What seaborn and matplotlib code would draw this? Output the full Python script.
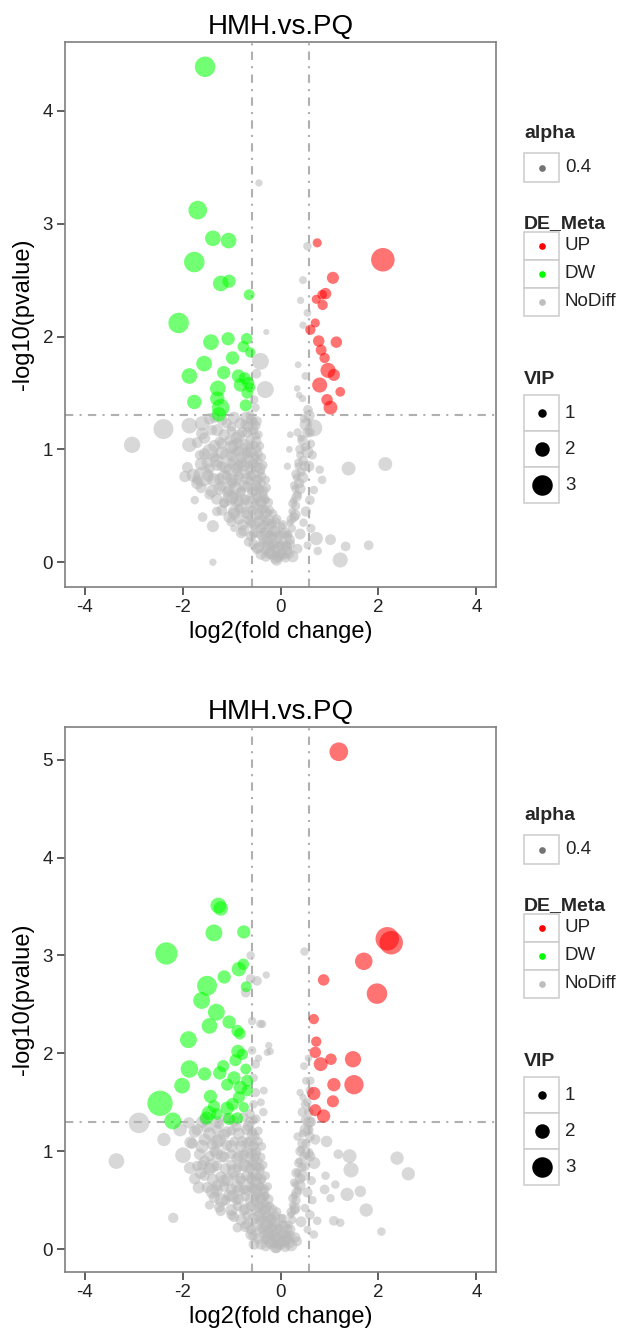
import numpy as np
import pandas as pd
import matplotlib
matplotlib.use("Agg")
import matplotlib.pyplot as plt
import seaborn as sns
from matplotlib.patches import Rectangle

# ---------------- data: (log2 fold change, -log10 pvalue, VIP) ----------------
top_up = [
    (0.75, 2.83, 1.1), (2.09, 2.68, 3.5), (1.07, 2.52, 1.6), (0.92, 2.38, 1.5),
    (0.85, 2.37, 1.2), (0.73, 2.33, 1.1), (0.86, 2.28, 1.3), (0.71, 2.12, 1.1),
    (0.61, 2.06, 1.3), (0.78, 1.96, 1.5), (1.14, 1.95, 1.5), (0.83, 1.88, 1.4),
    (0.90, 1.81, 1.3), (0.97, 1.70, 2.1), (1.09, 1.66, 1.6), (0.80, 1.57, 2.1),
    (1.22, 1.51, 1.2), (0.95, 1.44, 1.5), (1.02, 1.37, 1.9),
]
top_dw = [
    (-1.54, 4.39, 3.0), (-1.69, 3.12, 2.7), (-1.38, 2.87, 2.2), (-1.06, 2.85, 2.2),
    (-1.76, 2.66, 3.0), (-1.22, 2.47, 2.2), (-1.05, 2.49, 1.8), (-0.64, 2.37, 1.4),
    (-2.08, 2.12, 3.0), (-1.42, 1.95, 2.2), (-1.07, 1.98, 1.8), (-0.69, 1.98, 1.5),
    (-0.76, 1.91, 1.5), (-0.62, 1.86, 1.3), (-1.56, 1.76, 2.2), (-0.98, 1.81, 1.8),
    (-1.86, 1.65, 2.2), (-1.16, 1.68, 1.8), (-0.86, 1.65, 1.8), (-0.73, 1.63, 1.6),
    (-0.66, 1.59, 1.6), (-0.82, 1.57, 1.8), (-1.28, 1.54, 2.2), (-0.62, 1.55, 1.3),
    (-1.76, 1.42, 2.0), (-1.29, 1.45, 2.0), (-1.22, 1.37, 2.5), (-1.26, 1.31, 2.0),
    (-0.71, 1.39, 1.6), (-0.68, 1.50, 1.5),
]
top_nodiff = [
    (-0.44, 3.36, 0.8), (0.55, 2.80, 1.0), (0.46, 2.50, 0.9), (0.41, 2.32, 0.8),
    (0.55, 2.21, 0.9), (0.46, 2.10, 0.8), (-0.29, 2.04, 0.6), (0.36, 1.75, 0.7),
    (0.51, 1.65, 0.9), (0.34, 1.54, 0.7), (-0.31, 1.53, 2.4), (-0.41, 1.78, 2.4),
    (-0.49, 1.67, 1.2), (-0.54, 1.44, 1.0), (-0.51, 1.37, 1.0), (-0.48, 1.25, 1.2),
    (0.68, 1.19, 2.4), (1.39, 0.83, 1.9), (2.14, 0.87, 1.9), (1.33, 0.14, 1.2),
    (1.80, 0.15, 1.2), (1.22, 0.02, 2.1), (1.02, 0.20, 1.4), (0.73, 0.21, 1.8),
    (0.76, 0.10, 1.0), (-1.38, 0.00, 0.8), (-1.38, 0.32, 1.6), (-0.95, 0.30, 0.8),
    (0.80, 0.82, 1.0), (0.85, 0.73, 1.0), (0.68, 0.64, 1.0),
    (-3.03, 1.04, 2.3), (-2.39, 1.18, 2.9), (-1.86, 1.21, 2.2), (-1.86, 1.04, 2.0),
    (-1.60, 1.23, 2.0), (-1.29, 1.17, 1.6), (-1.44, 0.98, 2.2), (-1.78, 0.77, 1.8),
    (-1.58, 0.76, 2.9), (-1.36, 0.73, 1.8), (-1.59, 0.40, 1.2), (-1.02, 0.57, 2.2),
    (-0.92, 0.73, 1.6), (-0.85, 0.85, 1.5), (-0.95, 1.03, 1.6), (-0.82, 1.23, 1.5),
    (-1.19, 1.26, 1.4),
    (0.56, 1.35, 1.2), (0.48, 1.27, 1.0), (0.55, 1.15, 1.3), (0.42, 1.10, 0.8),
    (0.50, 1.02, 1.0), (0.40, 0.95, 0.9), (0.46, 0.90, 1.2), (0.36, 0.85, 0.8),
    (0.42, 0.80, 1.1), (0.33, 0.75, 0.9), (0.38, 0.70, 1.3), (0.30, 0.65, 0.9),
    (0.35, 0.60, 1.0), (0.27, 0.55, 0.8), (0.31, 0.50, 1.1), (0.24, 0.45, 0.9),
    (0.28, 0.40, 1.2), (0.20, 0.35, 0.8), (0.23, 0.30, 1.0), (0.16, 0.25, 0.9),
    (0.19, 0.20, 1.3), (0.12, 0.15, 1.0), (0.15, 0.10, 1.2), (0.08, 0.06, 1.0),
    (0.62, 1.05, 1.0), (0.65, 0.95, 1.1), (0.58, 0.85, 1.4), (0.60, 0.55, 1.2),
    (0.52, 0.45, 1.3), (0.47, 0.35, 1.0), (0.62, 0.30, 1.1), (0.40, 0.25, 1.4),
    (0.55, 0.15, 0.9), (0.35, 0.12, 1.2), (0.25, 0.05, 1.5), (0.45, 1.45, 0.8),
    (0.38, 1.48, 0.7), (0.20, 1.13, 0.7), (0.18, 1.00, 0.7), (0.14, 0.85, 0.8),
    (-0.62, 1.30, 1.1), (-0.55, 1.25, 1.0), (-0.66, 1.20, 1.4), (-0.58, 1.16, 1.2),
    (-0.50, 1.12, 0.9), (-0.62, 1.08, 1.3), (-0.53, 1.04, 1.0), (-0.47, 1.00, 0.9),
    (-0.60, 0.98, 1.5), (-0.70, 0.95, 1.2), (-0.52, 0.94, 1.1), (-0.44, 0.90, 0.8),
    (-0.57, 0.88, 1.3), (-0.65, 0.86, 1.0), (-0.48, 0.84, 1.2), (-0.40, 0.80, 0.9),
    (-0.55, 0.78, 1.4), (-0.72, 0.78, 1.3), (-0.45, 0.74, 1.0), (-0.62, 0.72, 1.2),
    (-0.38, 0.70, 0.9), (-0.50, 0.68, 1.5), (-0.42, 0.64, 1.1), (-0.58, 0.62, 1.3),
    (-0.35, 0.60, 1.0), (-0.47, 0.57, 1.2), (-0.30, 0.55, 0.9), (-0.40, 0.52, 1.4),
    (-0.52, 0.50, 1.2), (-0.33, 0.47, 1.1), (-0.25, 0.44, 0.9), (-0.44, 0.42, 1.3),
    (-0.36, 0.39, 1.0), (-0.28, 0.36, 1.2), (-0.20, 0.33, 0.9), (-0.40, 0.30, 1.4),
    (-0.31, 0.28, 1.1), (-0.22, 0.25, 1.0), (-0.15, 0.22, 1.2), (-0.35, 0.20, 1.3),
    (-0.26, 0.18, 1.5), (-0.18, 0.15, 1.0), (-0.10, 0.12, 1.3), (-0.30, 0.10, 1.2),
    (-0.21, 0.08, 1.6), (-0.12, 0.06, 1.1), (-0.04, 0.05, 1.4), (0.03, 0.08, 1.2),
    (-0.08, 0.02, 1.5), (0.00, 0.15, 1.3), (-0.05, 0.20, 1.0), (0.05, 0.25, 1.1),
    (-0.12, 0.28, 1.4), (0.02, 0.32, 0.9), (-0.08, 0.38, 1.2),
    (-0.78, 1.15, 1.3), (-0.90, 1.10, 1.6), (-1.05, 1.08, 1.2), (-0.75, 1.02, 1.1),
    (-0.85, 0.98, 1.4), (-1.10, 0.95, 1.8), (-0.95, 0.90, 1.2), (-0.80, 0.88, 1.6),
    (-1.20, 0.85, 1.3), (-1.05, 0.82, 1.5), (-0.88, 0.80, 1.1), (-0.75, 0.68, 1.4),
    (-1.15, 0.75, 2.0), (-0.98, 0.70, 1.3), (-0.82, 0.62, 1.2), (-1.25, 0.65, 1.6),
    (-1.08, 0.62, 1.4), (-0.90, 0.55, 1.8), (-0.70, 0.55, 1.3), (-0.80, 0.48, 1.5),
    (-1.15, 0.52, 1.2), (-0.95, 0.45, 1.6), (-0.68, 0.42, 1.2), (-0.85, 0.38, 1.4),
    (-0.60, 0.35, 1.3), (-0.75, 0.28, 1.5), (-0.55, 0.25, 1.1), (-0.65, 0.18, 1.2),
    (-0.48, 0.12, 1.4), (-1.50, 0.88, 1.4), (-1.65, 0.95, 1.2), (-1.70, 0.70, 1.6),
    (-1.45, 0.60, 1.3), (-1.30, 0.90, 1.8), (-1.20, 1.05, 1.4), (-1.00, 1.20, 1.2),
    (-0.70, 1.28, 1.6), (-1.55, 1.10, 1.5), (-1.35, 1.28, 1.3), (-1.05, 0.40, 1.5),
    (-1.30, 0.45, 1.2), (-1.75, 0.55, 1.0),
]
top_nodiff_core = [
    (-1.45, 1.27, 1.5), (-1.10, 1.23, 1.3), (-0.95, 1.28, 1.6), (-0.72, 1.22, 1.2),
    (-0.60, 1.26, 1.4), (-0.50, 1.21, 1.1), (-1.60, 1.14, 1.6), (-1.40, 1.17, 1.3),
    (-1.15, 1.13, 1.5), (-1.00, 1.16, 1.2), (-0.85, 1.12, 1.7), (-0.68, 1.15, 1.3),
    (-0.55, 1.18, 1.2), (-0.45, 1.13, 1.0), (-1.70, 1.06, 1.4), (-1.35, 1.03, 1.6),
    (-1.25, 1.07, 1.2), (-1.00, 1.02, 1.8), (-0.88, 1.06, 1.3), (-0.72, 1.04, 1.5),
    (-0.62, 1.01, 1.2), (-0.50, 1.07, 1.4), (-0.42, 1.03, 1.0), (-1.55, 0.96, 1.5),
    (-1.35, 0.93, 1.3), (-1.20, 0.97, 1.7), (-1.00, 0.94, 1.4), (-0.90, 0.98, 1.2),
    (-0.78, 0.93, 1.6), (-0.68, 0.97, 1.3), (-0.55, 0.92, 1.5), (-0.45, 0.96, 1.1),
    (-0.38, 0.93, 1.0), (-1.90, 0.84, 1.4), (-1.62, 0.87, 1.7), (-1.45, 0.83, 1.3),
    (-1.30, 0.86, 1.5), (-1.12, 0.84, 1.6), (-1.00, 0.87, 1.2), (-0.90, 0.83, 1.4),
    (-0.75, 0.86, 1.7), (-0.62, 0.82, 1.3), (-0.52, 0.87, 1.2), (-0.42, 0.83, 1.5),
    (-0.35, 0.86, 1.0), (-1.95, 0.76, 1.5), (-1.70, 0.73, 1.3), (-1.48, 0.77, 1.6),
    (-1.25, 0.74, 1.4), (-1.10, 0.77, 1.2), (-1.00, 0.73, 1.7), (-0.85, 0.76, 1.3),
    (-0.70, 0.74, 1.5), (-0.60, 0.77, 1.2), (-0.48, 0.73, 1.4), (-0.38, 0.76, 1.1),
    (-0.30, 0.73, 1.0), (-1.62, 0.66, 1.4), (-1.40, 0.63, 1.6), (-1.20, 0.67, 1.3),
    (-1.05, 0.64, 1.5), (-0.92, 0.66, 1.8), (-0.80, 0.63, 1.2), (-0.68, 0.67, 1.4),
    (-0.55, 0.64, 1.6), (-0.45, 0.66, 1.2), (-0.35, 0.63, 1.3), (-0.28, 0.66, 1.0),
    (-1.30, 0.56, 1.5), (-1.15, 0.53, 1.3), (-0.98, 0.57, 1.6), (-0.85, 0.54, 1.4),
    (-0.72, 0.56, 1.2), (-0.60, 0.53, 1.7), (-0.50, 0.57, 1.3), (-0.40, 0.54, 1.5),
    (-0.32, 0.56, 1.1), (-0.25, 0.53, 1.2), (-1.20, 0.46, 1.4), (-0.95, 0.43, 1.6),
    (-0.85, 0.47, 1.2), (-0.70, 0.44, 1.5), (-0.58, 0.46, 1.3), (-0.48, 0.43, 1.6),
    (-0.38, 0.47, 1.2), (-0.30, 0.44, 1.4), (-0.22, 0.46, 1.1), (-0.15, 0.43, 1.0),
    (-1.00, 0.36, 1.3), (-0.78, 0.33, 1.5), (-0.65, 0.37, 1.2), (-0.55, 0.34, 1.6),
    (-0.45, 0.36, 1.4), (-0.35, 0.33, 1.2), (-0.25, 0.37, 1.5), (-0.18, 0.34, 1.3),
    (-0.10, 0.36, 1.1), (0.05, 0.33, 1.2), (-0.80, 0.26, 1.4), (-0.60, 0.23, 1.3),
    (-0.50, 0.27, 1.6), (-0.40, 0.24, 1.2), (-0.30, 0.26, 1.5), (-0.20, 0.23, 1.3),
    (-0.12, 0.27, 1.6), (-0.02, 0.24, 1.2), (0.08, 0.26, 1.4), (0.15, 0.23, 1.1),
    (-0.55, 0.16, 1.3), (-0.45, 0.13, 1.5), (-0.35, 0.17, 1.2), (-0.25, 0.14, 1.6),
    (-0.15, 0.16, 1.4), (-0.05, 0.13, 1.7), (0.05, 0.17, 1.3), (0.12, 0.14, 1.5),
    (0.20, 0.16, 1.2), (-0.40, 0.07, 1.4), (-0.30, 0.05, 1.3), (-0.20, 0.08, 1.5),
    (-0.10, 0.04, 1.6), (0.00, 0.07, 1.4), (0.10, 0.04, 1.2), (0.18, 0.08, 1.3),
    (0.22, 0.38, 1.2), (0.30, 0.42, 1.4), (0.25, 0.52, 1.1), (0.33, 0.58, 1.3),
    (0.28, 0.68, 1.0), (0.40, 0.65, 1.4), (0.32, 0.78, 1.2), (0.45, 0.75, 1.5),
    (0.37, 0.88, 1.1), (0.50, 0.85, 1.3), (0.40, 1.00, 1.2), (0.55, 0.98, 1.6),
    (0.45, 1.08, 1.3), (0.52, 1.22, 1.7), (0.60, 1.15, 1.2), (0.35, 1.15, 1.0),
    (0.58, 1.30, 1.5),
]

bot_up = [
    (1.19, 5.08, 2.7), (2.18, 3.17, 3.5), (2.26, 3.13, 3.5), (1.70, 2.94, 2.5),
    (0.88, 2.75, 1.5), (1.97, 2.61, 3.0), (0.68, 2.35, 1.3), (0.73, 2.12, 1.3),
    (0.71, 2.01, 1.5), (1.03, 1.94, 1.5), (1.48, 1.94, 2.3), (0.82, 1.89, 1.9),
    (1.09, 1.68, 1.8), (1.50, 1.68, 2.8), (0.68, 1.59, 1.8), (1.07, 1.51, 1.6),
    (0.71, 1.42, 1.6), (0.88, 1.36, 1.8),
]
bot_dw = [
    (-1.27, 3.51, 2.2), (-1.22, 3.48, 2.0), (-1.36, 3.23, 2.4), (-0.75, 3.24, 1.8),
    (-2.33, 3.02, 3.3), (-0.76, 2.91, 1.5), (-0.85, 2.86, 2.0), (-1.15, 2.78, 1.8),
    (-1.50, 2.69, 2.9), (-0.70, 2.68, 1.4), (-1.61, 2.54, 2.4), (-1.31, 2.42, 2.4),
    (-1.05, 2.32, 1.8), (-1.45, 2.28, 2.2), (-0.88, 2.23, 1.6), (-0.83, 2.20, 1.5),
    (-1.88, 2.14, 2.4), (-0.87, 2.02, 1.8), (-0.78, 1.99, 1.5), (-0.92, 1.93, 1.6),
    (-1.86, 1.84, 2.5), (-1.55, 1.79, 1.8), (-1.17, 1.87, 1.6), (-1.24, 1.80, 1.8),
    (-0.71, 1.84, 1.4), (-0.95, 1.75, 1.8), (-0.68, 1.72, 1.6), (-2.01, 1.67, 2.2),
    (-1.09, 1.68, 1.6), (-0.82, 1.65, 1.8), (-1.43, 1.56, 1.8), (-0.85, 1.55, 1.6),
    (-0.68, 1.62, 1.5), (-2.46, 1.49, 3.8), (-1.36, 1.46, 1.6), (-1.09, 1.44, 1.8),
    (-1.46, 1.39, 2.0), (-2.20, 1.31, 2.4), (-1.05, 1.33, 1.6), (-1.51, 1.34, 1.8),
    (-0.88, 1.34, 1.5), (-1.30, 1.38, 1.5), (-0.98, 1.48, 1.7), (-0.75, 1.45, 1.3),
]
bot_nodiff = [
    (0.49, 3.04, 1.0), (-0.61, 3.00, 1.0), (-0.48, 2.74, 1.2), (-0.29, 2.80, 0.8),
    (-0.61, 2.76, 1.2), (-0.71, 2.62, 1.2), (-0.58, 2.33, 1.0), (-0.41, 2.30, 1.0),
    (-0.24, 2.08, 0.8), (-0.21, 2.02, 0.8), (0.48, 1.87, 0.9), (0.61, 1.72, 1.0),
    (0.40, 1.60, 0.8), (2.38, 0.93, 1.8), (2.61, 0.77, 1.8), (1.41, 0.95, 1.9),
    (1.44, 0.81, 2.1), (1.18, 0.97, 1.2), (0.94, 1.10, 1.5), (0.71, 1.12, 1.3),
    (1.12, 0.66, 1.0), (0.92, 0.75, 1.0), (1.36, 0.56, 1.8), (1.63, 0.59, 1.5),
    (1.75, 0.40, 1.8), (1.02, 0.52, 1.0), (0.75, 0.29, 1.0), (1.09, 0.29, 1.2),
    (1.22, 0.27, 1.0), (2.06, 0.18, 1.0), (0.68, 0.15, 1.0), (0.69, 0.88, 1.6),
    (0.90, 0.61, 1.2), (0.34, 0.08, 1.2), (-2.89, 1.29, 3.0), (-3.35, 0.90, 2.2),
    (-2.38, 1.12, 1.8), (-1.99, 0.96, 2.2), (-1.84, 1.09, 1.6), (-2.19, 0.32, 1.3),
    (-1.87, 1.29, 1.5), (-1.63, 0.78, 1.6), (-1.67, 0.63, 1.6), (-1.39, 0.59, 1.9),
    (-1.22, 0.39, 1.3), (-0.88, 0.22, 1.2), (-0.54, 0.05, 1.4),
    (-0.55, 1.48, 1.0), (-0.51, 1.60, 1.1), (-0.34, 1.62, 0.9), (-0.55, 1.75, 1.0),
    (-0.51, 1.89, 1.1), (-0.58, 2.03, 1.0), (-0.27, 2.01, 0.8), (-0.37, 2.30, 0.9),
    (-0.45, 1.95, 0.8), (-0.35, 1.40, 1.0), (-0.40, 1.50, 0.9),
    (0.58, 1.40, 1.2), (0.50, 1.32, 1.0), (0.57, 1.22, 1.3), (0.45, 1.18, 0.9),
    (0.52, 1.08, 1.1), (0.42, 1.02, 0.9), (0.48, 0.95, 1.2), (0.38, 0.90, 0.8),
    (0.44, 0.84, 1.1), (0.35, 0.78, 0.9), (0.40, 0.72, 1.3), (0.31, 0.66, 0.9),
    (0.36, 0.60, 1.0), (0.28, 0.55, 0.8), (0.32, 0.50, 1.1), (0.25, 0.45, 0.9),
    (0.29, 0.40, 1.2), (0.21, 0.35, 0.8), (0.24, 0.30, 1.0), (0.17, 0.25, 0.9),
    (0.20, 0.20, 1.3), (0.13, 0.15, 1.0), (0.16, 0.10, 1.2), (0.09, 0.06, 1.0),
    (0.62, 1.30, 1.3), (0.55, 1.50, 1.0), (0.46, 1.55, 0.8), (0.60, 0.95, 1.4),
    (0.63, 0.70, 1.1), (0.55, 0.58, 1.3), (0.50, 0.42, 1.0), (0.60, 0.35, 1.2),
    (0.42, 0.28, 1.4), (0.55, 0.20, 0.9), (0.30, 0.12, 1.3), (0.22, 0.04, 1.6),
    (0.65, 0.50, 1.0), (0.52, 1.72, 0.9), (0.57, 1.95, 0.8), (0.60, 1.62, 1.0),
    (-0.62, 1.38, 1.2), (-0.55, 1.32, 1.0), (-0.66, 1.26, 1.4), (-0.58, 1.20, 1.2),
    (-0.50, 1.15, 0.9), (-0.62, 1.10, 1.3), (-0.53, 1.05, 1.0), (-0.47, 1.00, 0.9),
    (-0.60, 0.98, 1.5), (-0.52, 0.94, 1.1), (-0.44, 0.90, 0.8), (-0.57, 0.88, 1.3),
    (-0.48, 0.84, 1.2), (-0.40, 0.80, 0.9), (-0.55, 0.78, 1.4), (-0.45, 0.74, 1.0),
    (-0.62, 0.72, 1.2), (-0.38, 0.70, 0.9), (-0.50, 0.68, 1.5), (-0.42, 0.64, 1.1),
    (-0.58, 0.62, 1.3), (-0.35, 0.60, 1.0), (-0.47, 0.57, 1.2), (-0.30, 0.55, 0.9),
    (-0.40, 0.52, 1.4), (-0.52, 0.50, 1.2), (-0.33, 0.47, 1.1), (-0.25, 0.44, 0.9),
    (-0.44, 0.42, 1.3), (-0.36, 0.39, 1.0), (-0.28, 0.36, 1.2), (-0.20, 0.33, 0.9),
    (-0.40, 0.30, 1.4), (-0.31, 0.28, 1.1), (-0.22, 0.25, 1.0), (-0.15, 0.22, 1.2),
    (-0.35, 0.20, 1.3), (-0.26, 0.18, 1.5), (-0.18, 0.15, 1.0), (-0.10, 0.12, 1.3),
    (-0.30, 0.10, 1.2), (-0.21, 0.08, 1.6), (-0.12, 0.06, 1.1), (-0.04, 0.05, 1.4),
    (0.03, 0.08, 1.2), (-0.08, 0.02, 1.5), (0.00, 0.15, 1.3), (-0.05, 0.20, 1.0),
    (0.05, 0.25, 1.1), (-0.12, 0.28, 1.4), (0.02, 0.32, 0.9), (-0.08, 0.38, 1.2),
    (-1.75, 1.20, 1.6), (-1.60, 1.05, 1.8), (-1.50, 1.25, 1.5), (-1.40, 0.85, 2.0),
    (-1.55, 0.90, 1.4), (-1.30, 1.10, 1.8), (-1.20, 0.95, 1.6), (-1.10, 1.20, 1.4),
    (-1.00, 1.05, 1.7), (-0.90, 1.25, 1.3), (-0.85, 0.95, 1.5), (-0.95, 0.80, 1.9),
    (-1.15, 0.70, 1.6), (-1.30, 0.65, 1.4), (-0.80, 0.70, 1.3), (-1.05, 0.55, 1.5),
    (-0.90, 0.50, 1.2), (-0.75, 0.40, 1.4), (-1.00, 0.35, 1.3), (-0.70, 0.25, 1.2),
    (-0.60, 0.15, 1.5), (-1.70, 0.85, 1.3), (-1.45, 0.45, 1.1), (-1.60, 1.30, 1.6),
    (-1.25, 1.28, 1.3), (-0.78, 1.10, 1.4), (-0.70, 1.00, 1.2), (-0.72, 0.85, 1.6),
    (-0.68, 0.60, 1.3), (-1.20, 0.50, 1.8), (-0.85, 0.60, 1.6), (-1.35, 1.00, 1.3),
    (-2.05, 1.22, 1.8),
]
bot_nodiff_core = [
    (-1.55, 1.33, 1.4), (-1.30, 1.30, 1.6), (-1.10, 1.34, 1.3), (-0.95, 1.31, 1.5),
    (-0.75, 1.35, 1.2), (-0.62, 1.30, 1.4), (-0.50, 1.33, 1.1), (-1.70, 1.22, 1.5),
    (-1.45, 1.18, 1.7), (-1.30, 1.22, 1.3), (-1.15, 1.17, 1.5), (-1.00, 1.21, 1.2),
    (-0.85, 1.18, 1.6), (-0.70, 1.22, 1.3), (-0.58, 1.17, 1.5), (-0.45, 1.21, 1.0),
    (-1.80, 1.08, 1.4), (-1.55, 1.12, 1.6), (-1.40, 1.07, 1.3), (-1.25, 1.11, 1.8),
    (-1.10, 1.06, 1.4), (-0.95, 1.10, 1.2), (-0.80, 1.05, 1.6), (-0.68, 1.09, 1.3),
    (-0.55, 1.06, 1.4), (-0.45, 1.10, 1.1), (-0.38, 1.05, 1.0), (-1.65, 0.97, 1.5),
    (-1.45, 0.95, 1.3), (-1.30, 0.98, 1.7), (-1.15, 0.94, 1.4), (-1.00, 0.97, 1.2),
    (-0.88, 0.93, 1.6), (-0.75, 0.96, 1.3), (-0.62, 0.93, 1.5), (-0.50, 0.97, 1.2),
    (-0.40, 0.94, 1.1), (-1.85, 0.83, 1.6), (-1.60, 0.86, 1.4), (-1.45, 0.82, 1.7),
    (-1.30, 0.85, 1.3), (-1.12, 0.82, 1.5), (-1.00, 0.86, 1.4), (-0.88, 0.83, 1.2),
    (-0.75, 0.86, 1.6), (-0.62, 0.82, 1.3), (-0.52, 0.86, 1.4), (-0.42, 0.83, 1.2),
    (-0.35, 0.86, 1.0), (-1.75, 0.72, 1.5), (-1.55, 0.75, 1.3), (-1.38, 0.71, 1.6),
    (-1.22, 0.74, 1.4), (-1.08, 0.71, 1.7), (-0.95, 0.75, 1.2), (-0.82, 0.72, 1.5),
    (-0.70, 0.75, 1.3), (-0.58, 0.71, 1.4), (-0.48, 0.74, 1.2), (-0.38, 0.72, 1.1),
    (-0.30, 0.75, 1.0), (-1.50, 0.63, 1.4), (-1.30, 0.60, 1.6), (-1.15, 0.64, 1.3),
    (-1.00, 0.61, 1.5), (-0.88, 0.64, 1.7), (-0.75, 0.61, 1.2), (-0.62, 0.64, 1.4),
    (-0.52, 0.61, 1.5), (-0.42, 0.64, 1.2), (-0.33, 0.61, 1.3), (-0.26, 0.64, 1.0),
    (-1.35, 0.53, 1.5), (-1.12, 0.50, 1.3), (-0.98, 0.54, 1.6), (-0.85, 0.51, 1.4),
    (-0.72, 0.54, 1.2), (-0.60, 0.50, 1.7), (-0.50, 0.54, 1.3), (-0.40, 0.51, 1.5),
    (-0.32, 0.54, 1.1), (-0.24, 0.51, 1.2), (-1.25, 0.43, 1.4), (-1.00, 0.40, 1.6),
    (-0.88, 0.44, 1.2), (-0.72, 0.41, 1.5), (-0.60, 0.44, 1.3), (-0.50, 0.40, 1.6),
    (-0.40, 0.44, 1.2), (-0.30, 0.41, 1.4), (-0.22, 0.44, 1.1), (-0.15, 0.41, 1.0),
    (-0.95, 0.33, 1.3), (-0.80, 0.30, 1.5), (-0.68, 0.34, 1.2), (-0.56, 0.31, 1.6),
    (-0.46, 0.34, 1.4), (-0.36, 0.31, 1.2), (-0.26, 0.34, 1.5), (-0.18, 0.31, 1.3),
    (-0.10, 0.34, 1.1), (0.05, 0.31, 1.2), (-0.72, 0.23, 1.4), (-0.60, 0.20, 1.3),
    (-0.50, 0.24, 1.6), (-0.40, 0.21, 1.2), (-0.30, 0.24, 1.5), (-0.20, 0.21, 1.3),
    (-0.12, 0.24, 1.6), (-0.02, 0.21, 1.2), (0.08, 0.24, 1.4), (0.15, 0.21, 1.1),
    (-0.55, 0.14, 1.3), (-0.45, 0.11, 1.5), (-0.35, 0.15, 1.2), (-0.25, 0.12, 1.6),
    (-0.15, 0.14, 1.4), (-0.05, 0.11, 1.7), (0.05, 0.15, 1.3), (0.12, 0.12, 1.5),
    (0.20, 0.14, 1.2), (-0.40, 0.05, 1.4), (-0.30, 0.03, 1.3), (-0.20, 0.06, 1.5),
    (-0.10, 0.02, 1.6), (0.00, 0.05, 1.4), (0.10, 0.02, 1.2), (0.18, 0.06, 1.3),
    (0.22, 0.38, 1.2), (0.30, 0.42, 1.4), (0.25, 0.52, 1.1), (0.33, 0.58, 1.3),
    (0.28, 0.68, 1.0), (0.40, 0.65, 1.4), (0.32, 0.78, 1.2), (0.45, 0.75, 1.5),
    (0.37, 0.88, 1.1), (0.50, 0.85, 1.3), (0.40, 1.00, 1.2), (0.55, 0.98, 1.6),
    (0.45, 1.08, 1.3), (0.52, 1.22, 1.7), (0.60, 1.15, 1.2), (0.35, 1.15, 1.0),
    (0.58, 1.30, 1.5), (0.45, 1.40, 1.2), (0.50, 1.48, 1.0),
]

panel_title = "HMH.vs.PQ"
x_ticks = [-4, -2, 0, 2, 4]
top_y_ticks = [0, 1, 2, 3, 4]
bot_y_ticks = [0, 1, 2, 3, 4, 5]
fc_cut = np.log2(1.5)
p_cut = -np.log10(0.05)
legend_vip = [1, 2, 3]
de_levels = ["UP", "DW", "NoDiff"]

# ---------------- style ----------------
sns.set_theme(style="white")
plt.rcParams['font.family'] = ['Liberation Sans', 'DejaVu Sans']

W, H, DPI = 621, 1331, 100
palette = {"NoDiff": "#B8B8B8", "DW": "#00FF00", "UP": "#FF0000"}
ALPHA = 0.55


def vip_area(v):
    d_px = 2.5 + 6 * v
    return (d_px * 72 / DPI) ** 2


AMIN, AMAX = vip_area(0), vip_area(5)


def make_df(up, dw, nd):
    rows = []
    for grp, pts in (("NoDiff", nd), ("DW", dw), ("UP", up)):
        for x, y, v in pts:
            rows.append((x, y, v, grp))
    df = pd.DataFrame(rows, columns=["log2FC", "nlogp", "VIP", "DE_Meta"])
    df["area"] = df["VIP"].map(vip_area)
    return df


fig = plt.figure(figsize=(W / DPI, H / DPI), dpi=DPI)
fig.patch.set_facecolor("white")


def px_axes(left, top, right, bottom):
    return fig.add_axes([left / W, 1 - bottom / H, (right - left) / W, (bottom - top) / H])


def draw_panel(ax, df, yticks):
    sns.scatterplot(data=df, x="log2FC", y="nlogp", hue="DE_Meta", palette=palette,
                    size="area", sizes=(AMIN, AMAX), size_norm=(AMIN, AMAX),
                    alpha=ALPHA, linewidth=0, legend=False, ax=ax, zorder=2)
    ymin, ymax = df["nlogp"].min(), df["nlogp"].max()
    pad = 0.05 * (ymax - ymin)
    ax.set_ylim(ymin - pad, ymax + pad)
    ax.set_xlim(-4.4, 4.4)
    ls = (0, (4, 3, 1, 3))
    for xv in (-fc_cut, fc_cut):
        ax.axvline(xv, color="#B0B0B0", lw=1.5, ls=ls, zorder=1)
    ax.axhline(p_cut, color="#B0B0B0", lw=1.5, ls=ls, zorder=1)
    ax.set_xticks(x_ticks)
    ax.set_yticks(yticks)
    ax.set_xticklabels([str(t) for t in x_ticks])
    ax.set_yticklabels([str(t) for t in yticks])
    ax.tick_params(direction="out", length=5.5, width=1.1, color="#333333",
                   labelsize=13.5, labelcolor="#222222", pad=3, bottom=True, left=True)
    for sp in ax.spines.values():
        sp.set_color("#7F7F7F")
        sp.set_linewidth(1.2)
    ax.set_xlabel("log2(fold change)", fontsize=17, labelpad=4, color="black")
    ax.set_ylabel("-log10(pvalue)", fontsize=17, labelpad=6, color="black")
    ax.set_title(panel_title, fontsize=20, pad=6, color="black")
    ax.grid(False)


ax1 = px_axes(65, 42, 496, 587)
draw_panel(ax1, make_df(top_up, top_dw, top_nodiff + top_nodiff_core), top_y_ticks)
ax2 = px_axes(65, 727, 496, 1272)
draw_panel(ax2, make_df(bot_up, bot_dw, bot_nodiff + bot_nodiff_core), bot_y_ticks)

# ---------------- legends (ggplot-like keys) ----------------
lax = fig.add_axes([0, 0, 1, 1])
lax.set_xlim(0, W)
lax.set_ylim(H, 0)
lax.axis("off")
KX0, KW = 524, 35


def key_box(y_top, h):
    lax.add_patch(Rectangle((KX0, y_top), KW, h, facecolor="white",
                            edgecolor="#CCCCCC", lw=1.1))


def legend_block(off):
    lax.text(KX0, off + 133, "alpha", fontsize=14, fontweight="bold", va="center", ha="left")
    y = off + 153
    key_box(y, 29)
    lax.scatter([KX0 + KW / 2], [y + 14.5], s=vip_area(0.7), color="black", alpha=ALPHA, lw=0)
    lax.text(KX0 + KW + 6, y + 14.5, "0.4", fontsize=13.5, va="center", color="#222222")
    lax.text(KX0, off + 224, "DE_Meta", fontsize=14, fontweight="bold", va="center", ha="left")
    y = off + 232
    for lvl in de_levels:
        key_box(y, 28)
        col = palette[lvl] if lvl != "NoDiff" else "#BEBEBE"
        lax.scatter([KX0 + KW / 2], [y + 14], s=vip_area(0.7), color=col, lw=0)
        lax.text(KX0 + KW + 6, y + 14, lvl, fontsize=13.5, va="center", color="#222222")
        y += 28
    lax.text(KX0, off + 380, "VIP", fontsize=14, fontweight="bold", va="center", ha="left")
    y = off + 395
    for v in legend_vip:
        key_box(y, 36)
        lax.scatter([KX0 + KW / 2], [y + 18], s=vip_area(v), color="black", lw=0)
        lax.text(KX0 + KW + 6, y + 18, str(v), fontsize=13.5, va="center", color="#222222")
        y += 36


legend_block(0)
legend_block(682)

fig.savefig("out.png", dpi=DPI, facecolor="white")
